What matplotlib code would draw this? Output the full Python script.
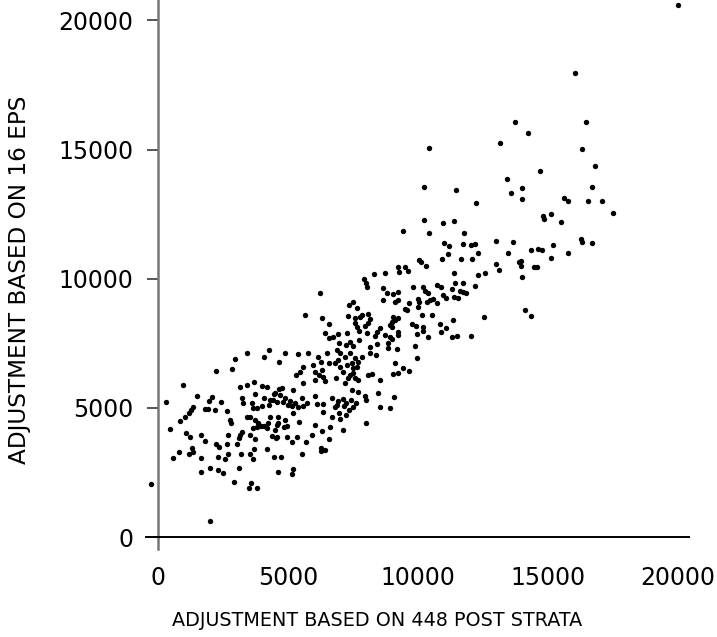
import matplotlib
matplotlib.use("Agg")
import matplotlib.pyplot as plt
import numpy as np

plt.rcParams['font.family'] = ['DejaVu Sans']

# ---- data: x = adjustment based on 448 post strata, y = adjustment based on 16 EPS
low_x = [-289,1983,442,828,1059,1213,1636,1790,2676,2791,2214,2329,2637,3022,3099,3215,3138,3523,3715,3638,
         3792,3946,4062,4177,4216,4485,4562,4601,790,1174,1328,1290,558,1636,2291,2560,2676,3176,3523,3638,
         3677,4177,4447,1636,1983,2291,2483,3099,2907,3561,3484,3792,4601]
low_y = [2050,619,4177,4487,4023,3868,3945,3713,3945,4410,3597,3481,3597,3597,3829,4061,3945,3945,3791,4216,
         4255,4293,4293,4216,4410,4139,3868,4410,3288,3210,3288,3443,3056,3056,3094,3017,3210,3210,3210,3017,
         3404,3404,3094,2514,2669,2592,2476,2669,2127,2089,1895,1895,2514]

left_x = [3407,4254,4062,2945,2830,2214,4639,943,3138,3407,3677,3985,4177,3215,3715,4062,4447,4639,1482,2060,
          1944,2406,289,3253,3600,4293,3985,4254,3638,3792,1328,1251,1174,1790,1906,2175,2637,1020,2753,3407,
          3523,3715,3831,4293,4601]
left_y = [7117,7233,6962,6885,6498,6421,6769,5879,5802,5879,5995,5841,5802,5377,5531,5377,5531,5725,5454,5415,
          5260,5222,5222,5183,5183,5299,5067,5106,4990,4990,5028,4912,4796,4951,4951,4912,4874,4642,4526,4642,
          4642,4526,4410,4642,4642]

band_x = [4408,4562,4793,5063,5255,4986,5140,5371,5525,5563,5717,6025,6102,6333,6680,6872,6911,7103,7141,7219,
          7411,7604,7488,7989,8528,8913,6795]
band_y = [5299,5222,5222,5260,5183,5106,5067,5028,5377,5067,5183,5454,5144,5144,5377,5106,5260,5338,5067,5183,
          5299,5183,5028,5299,5028,4990,5028]

mlow_x = [6333,6680,6949,7219,7334,6988,4562,4870,4832,4947,5409,6025,6603,7103,7989,5178,4370,4524,4947,5140,
          5332,5679,5910,6295,6564,6256,6256,6410,5525,4716,5178,5140]
mlow_y = [4835,4642,4796,4719,4912,4564,4332,4526,4255,4293,4448,4332,4255,4139,4410,4796,3907,3829,3868,3675,
          3868,3675,3945,4100,3791,3443,3326,3365,3210,3094,2630,2437]

core_x = [6564,7565,7642,7951,8066,7719,8027,8412,8528,8913,9105,6410,6564,6718,6911,7257,7373,7488,7219,6949,
          7719,8335,8720,8836,8990,9221,8412,8143,4870,5371,5756,6141,6487,6872,6988,6564,6256,5948,5563,5448,
          5294,6025,6295,6179,6025,6410,6333,6795,6911,7180,7373,7565,7681,7835,8143,8374,8836,9183,6988,7257,
          7450,7488,7642,7103,7373,7488,7296,7565,6834,7180,7681,8066,8220,8528,9221,9105,5563,5178,4755,4485,
          4678,4870,7450,7681,7951,8451,9067]
core_y = [8239,8278,8123,8161,8278,7968,7891,7929,8084,8200,8394,7891,7697,7736,7852,7891,7543,7388,7427,7504,
          7620,7775,7813,7504,7659,7813,7465,7349,7117,7078,7117,6962,7117,7233,7117,6730,6769,6653,6576,6382,
          6266,6382,6460,6266,6073,6034,6189,6730,6846,6962,7117,6924,6769,6962,7117,7040,7311,7272,6576,6653,
          6730,6537,6576,6382,6266,6344,6150,6150,6150,5957,6073,6266,6305,6073,6344,6730,5957,5686,5763,5570,
          5493,5377,5686,5609,5454,5570,5415]

upper_x = [9221,9260,8297,8720,7912,7989,8027,6218,8643,8797,9028,9221,8643,9105,9221,7488,7334,7642,5640,6295,
           7296,7565,7758,7835,8066,8143,9028,9221]
upper_y = [10444,10250,10173,10212,9979,9825,9670,9438,9631,9438,9399,9477,9167,9090,9167,9090,8974,8858,8587,8471,
           8548,8471,8510,8587,8626,8432,8510,8471]

right_x = [8990,8990,8913,9221,9760,9914,10184,10184,9953,10376,10838,11069,10877,11339,11300,11492,12031,9875,9953,9414,
           9645,9028]
right_y = [8316,8123,7736,7929,8239,8161,8123,7968,7852,7736,8239,8084,7929,8394,7736,7775,7775,7388,6924,6537,
           6421,6305]

high_x = [9414,10415,10954,11377,10222,11762,10992,11185,11724,12031,12185,12994,13648,11146,10915,11647,12070,12301,13456,13880,
          10030,10107,10299,9491,9607,12994,13109,11377,12570,12301,12185,11416,11724,11300,11608,11724,11839,11377,11531,11069,
          10954,10723,10877,10184,10261,10376,9799,9645,9991,10030,10338,10454,10569,10723,9991,9491,9568,10145,10530,12531]
high_y = [11836,11759,12146,12223,12262,11759,11372,11256,11333,11295,11333,11449,11411,10946,10753,10753,10753,10985,10985,10637,
          10714,10637,10482,10444,10289,10560,10328,10212,10212,10134,9709,9825,9825,9593,9515,9477,9438,9283,9245,9245,
          9361,9747,9670,9670,9515,9438,9670,9051,9206,9090,9090,9167,9206,9051,8896,8819,8780,8587,8587,8510]

top_x = [13725,10415,13148,13417,13571,10222,11454,12224,
         14689,13994,13994,15650,15804,16574,16728,17113,17536,14804,14843,15150,
         15497,14341,14612,14765,15189,15112,15805,16305,16343,16728,13956,13956,14457,14573,13995,14111,14341,
         20040,16074,16497,14226,16343,16844]
top_y = [16052,15047,15240,13847,13306,13538,13422,12919,
         14157,13499,13074,13113,12996,12996,13538,12996,12532,12416,12300,12494,
         12184,11101,11140,11101,11295,10792,10985,11527,11411,11372,10676,10482,10444,10444,10057,8780,8548,
         20578,17948,16052,15627,15008,14350]

x_ticks = [0, 5000, 10000, 15000, 20000]
y_ticks = [0, 5000, 10000, 15000, 20000]
x_label = "ADJUSTMENT BASED ON 448 POST STRATA"
y_label = "ADJUSTMENT BASED ON 16 EPS"

groups = [(low_x, low_y), (left_x, left_y), (band_x, band_y), (mlow_x, mlow_y), (core_x, core_y),
          (upper_x, upper_y), (right_x, right_y), (high_x, high_y), (top_x, top_y)]
xs, ys = [], []
for gx, gy in groups:
    assert len(gx) == len(gy), (len(gx), len(gy))
    xs += gx
    ys += gy

W, H = 717, 637
fig = plt.figure(figsize=(W / 100, H / 100), dpi=100)
ax = fig.add_axes([146 / W, (H - 549) / H, (689 - 146) / W, 549 / H])
ax.set_xlim(-480, 20450)
ax.set_ylim(-464, 20790)

ax.scatter(xs, ys, s=15, c='black', linewidths=0, clip_on=False, zorder=3)

for s in ['top', 'right']:
    ax.spines[s].set_visible(False)
ax.spines['left'].set_position(('data', 0))
ax.spines['bottom'].set_position(('data', 0))
ax.spines['left'].set_color('#777777')
ax.spines['left'].set_linewidth(1.8)
ax.spines['bottom'].set_color('black')
ax.spines['bottom'].set_linewidth(1.4)

ax.set_xticks(x_ticks)
ax.set_yticks(y_ticks)
ax.set_xticklabels([str(v) for v in x_ticks])
ax.set_yticklabels([str(v) for v in y_ticks])
ax.tick_params(axis='y', direction='out', length=8, width=1.4, color='#555555', pad=10,
               labelsize=17, labelcolor='black')
ax.tick_params(axis='x', length=0, pad=21, labelsize=17, labelcolor='black')

fig.text(377 / W, 1 - 620 / H, x_label, ha='center', va='center', fontsize=13.8)
fig.text(20 / W, 1 - 280 / H, y_label, ha='center', va='center', rotation=90, fontsize=16.7)

fig.savefig("out.png", dpi=100)
